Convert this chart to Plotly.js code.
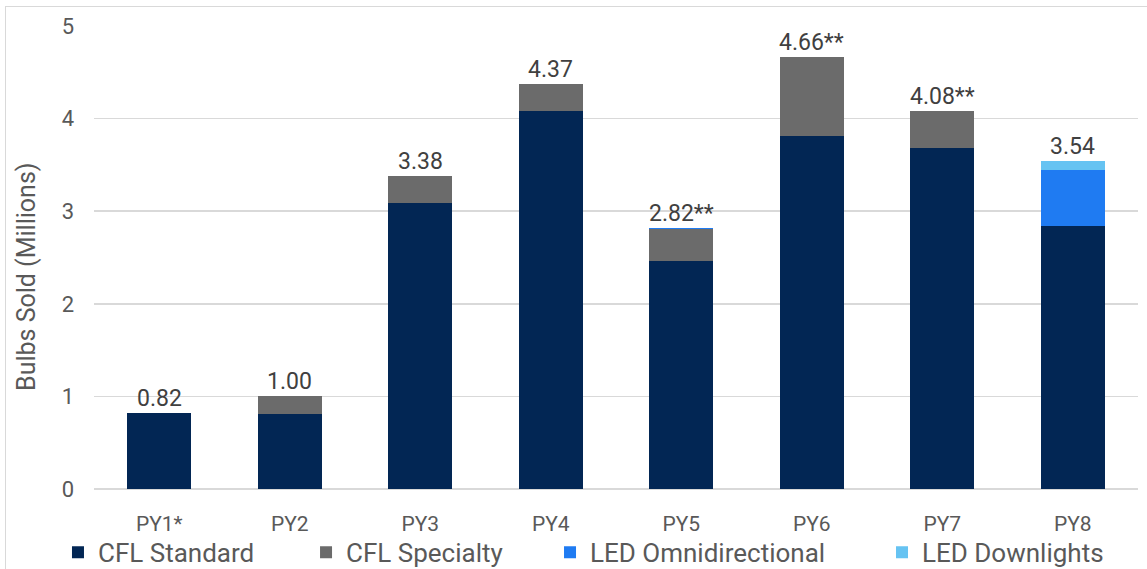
<!DOCTYPE html>
<html>
<head>
<meta charset="utf-8">
<script src="https://cdn.plot.ly/plotly-3.0.1.min.js"></script>
<style>
html,body{margin:0;padding:0;background:#fff;overflow:hidden;}
#frame{position:absolute;left:5px;top:6px;width:1200px;height:600px;border:1.5px solid #d9d9d9;box-sizing:border-box;}
#chart{position:absolute;left:0;top:0;width:1147px;height:569px;}
</style>
</head>
<body>
<div id="frame"></div>
<div id="chart"></div>
<script>
const categories = ["PY1*", "PY2", "PY3", "PY4", "PY5", "PY6", "PY7", "PY8"];
const cflStandard = [0.82, 0.81, 3.09, 4.08, 2.46, 3.81, 3.68, 2.84];
const cflSpecialty = [0.00, 0.19, 0.29, 0.29, 0.35, 0.85, 0.40, 0.00];
const ledOmni = [0, 0, 0, 0, 0.01, 0, 0, 0.61];
const ledDown = [0, 0, 0, 0, 0, 0, 0, 0.09];
const totals = [0.82, 1.00, 3.38, 4.37, 2.82, 4.66, 4.08, 3.54];
const totalLabels = ["0.82", "1.00", "3.38", "4.37", "2.82**", "4.66**", "4.08**", "3.54"];
const seriesNames = ["CFL Standard", "CFL Specialty", "LED Omnidirectional", "LED Downlights"];
const seriesColors = ["#022654", "#6b6b6b", "#1f7bf2", "#66c3f2"];
const yTitle = "Bulbs Sold (Millions)";

const font = "Roboto, 'Open Sans', sans-serif";
const grey = "#595959";

const seriesValues = [cflStandard, cflSpecialty, ledOmni, ledDown];
const legendIds = ["legend", "legend2", "legend3", "legend4"];
const legendX = [-0.0345, 0.2031, 0.4368, 0.7548];

const data = seriesValues.map((vals, i) => ({
  type: "bar", name: seriesNames[i], x: categories, y: vals,
  marker: {color: seriesColors[i], line: {width: 0}},
  legend: legendIds[i], hoverinfo: "x+y+name"
}));

const annotations = categories.map((c, i) => ({
  x: c, y: totals[i], text: totalLabels[i], xref: "x", yref: "y",
  showarrow: false, yanchor: "bottom", yshift: -1,
  font: {family: font, size: 23, color: "#404040"}
}));
annotations.push({
  xref: "paper", yref: "paper", x: 0, y: 0.458, xanchor: "center", yanchor: "middle",
  xshift: -67, textangle: -90, showarrow: false, text: yTitle,
  font: {family: font, size: 25, color: grey}
});

const layout = {
  width: 1147, height: 569,
  paper_bgcolor: "rgba(0,0,0,0)", plot_bgcolor: "rgba(0,0,0,0)",
  margin: {l: 94, r: 9, t: 26, b: 80, autoexpand: false},
  barmode: "stack", bargap: 0.51,
  showlegend: true,
  xaxis: {type: "category", showgrid: false, zeroline: false, showline: false, ticks: "",
    ticklabelstandoff: 20,
    tickfont: {family: font, size: 21, color: grey}, automargin: false},
  yaxis: {range: [0, 5], dtick: 1, tickformat: "d", showgrid: true, gridcolor: "#d9d9d9", gridwidth: 1.5,
    zeroline: true, zerolinecolor: "#d9d9d9", zerolinewidth: 1.5, showline: false, ticks: "",
    ticklabelstandoff: 19,
    tickfont: {family: font, size: 22, color: grey}, automargin: false},
  annotations: annotations
};
legendIds.forEach((id, i) => {
  layout[id] = {orientation: "h", x: legendX[i], xanchor: "left", y: -0.086, yanchor: "top",
    font: {family: font, size: 26, color: grey}, bgcolor: "rgba(0,0,0,0)"};
});

Plotly.newPlot("chart", data, layout, {displayModeBar: false, staticPlot: true});
</script>
</body>
</html>
